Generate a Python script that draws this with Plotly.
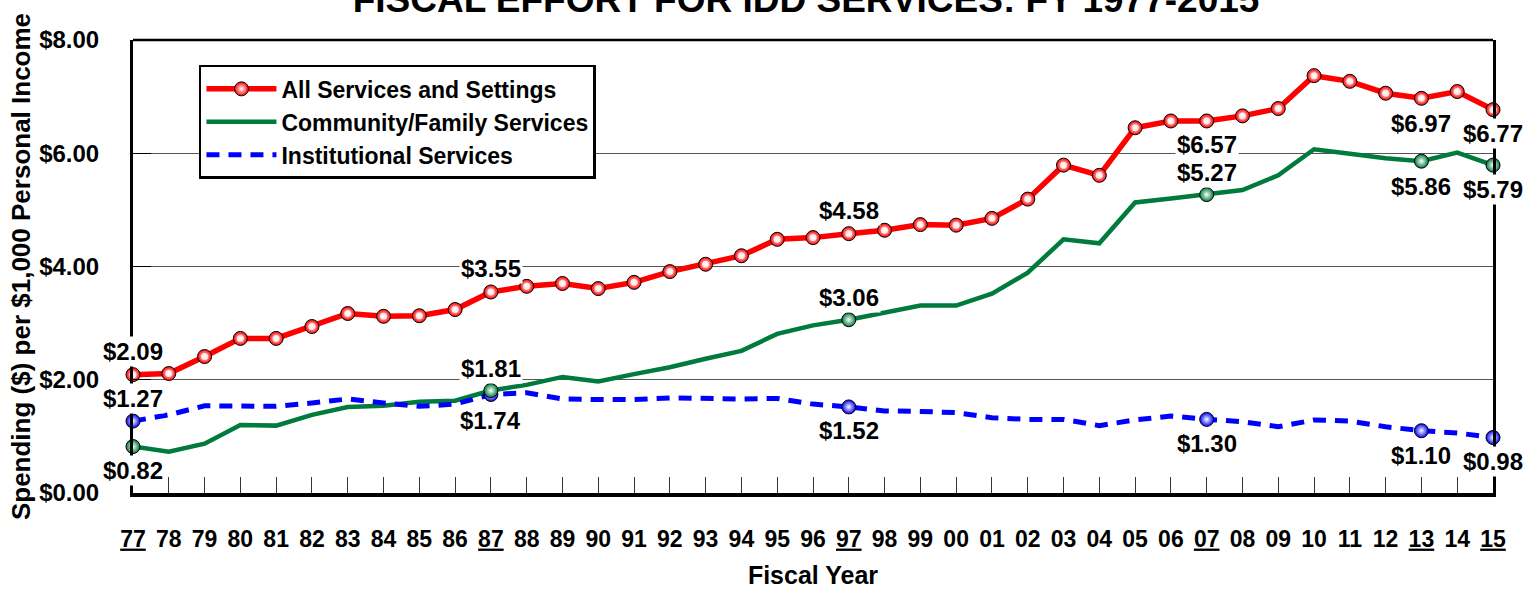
import plotly.graph_objects as go

# ---------------- data ----------------
year_labels = ['77', '78', '79', '80', '81', '82', '83', '84', '85', '86',
               '87', '88', '89', '90', '91', '92', '93', '94', '95', '96',
               '97', '98', '99', '00', '01', '02', '03', '04', '05', '06',
               '07', '08', '09', '10', '11', '12', '13', '14', '15']

all_services = [2.09, 2.11, 2.41, 2.73, 2.73, 2.94, 3.17, 3.12, 3.13, 3.24,
                3.55, 3.65, 3.70, 3.61, 3.72, 3.91, 4.04, 4.19, 4.48, 4.51,
                4.58, 4.64, 4.74, 4.73, 4.85, 5.19, 5.79, 5.61, 6.45, 6.57,
                6.57, 6.66, 6.79, 7.37, 7.27, 7.06, 6.97, 7.09, 6.77]

community = [0.82, 0.73, 0.87, 1.20, 1.19, 1.38, 1.52, 1.54, 1.61, 1.63,
             1.81, 1.91, 2.05, 1.97, 2.10, 2.22, 2.37, 2.51, 2.81, 2.96,
             3.06, 3.19, 3.31, 3.31, 3.52, 3.89, 4.48, 4.41, 5.13, 5.20,
             5.27, 5.35, 5.61, 6.07, 5.99, 5.91, 5.86, 6.01, 5.79]

institutional = [1.27, 1.38, 1.54, 1.53, 1.53, 1.59, 1.66, 1.59, 1.53, 1.57,
                 1.74, 1.77, 1.66, 1.65, 1.65, 1.68, 1.66, 1.66, 1.67, 1.57,
                 1.52, 1.45, 1.44, 1.42, 1.33, 1.30, 1.30, 1.19, 1.29, 1.36,
                 1.30, 1.26, 1.17, 1.29, 1.27, 1.17, 1.10, 1.06, 0.98]

highlight_years = ['77', '87', '97', '07', '13', '15']

series_names = ['All Services and Settings', 'Community/Family Services', 'Institutional Services']
title_text = 'FISCAL EFFORT FOR IDD SERVICES: FY 1977-2015'
x_title = 'Fiscal Year'
y_title = 'Spending ($) per $1,000 Personal Income'

# ---------------- style ----------------
FONT = 'Liberation Sans, Arial, sans-serif'
RED, GREEN, BLUE = '#ff0000', '#007a3d', '#0000ff'
# vertical label offset in px per highlighted year (+ above, - below)
label_shift = {
    'all':  {'77': 23, '87': 23, '97': 23, '07': -24, '13': -25, '15': -24},
    'com':  {'77': -24, '87': 22, '97': 22, '07': 22, '13': -25, '15': -24},
    'inst': {'77': 23, '87': -26, '97': -24, '07': -24, '13': -25, '15': -24},
}

def sphere(color):
    return dict(symbol='circle', size=14, color=color,
                gradient=dict(type='radial', color='white'),
                line=dict(color='black', width=1))

fig = go.Figure()

fig.add_trace(go.Scatter(x=year_labels, y=all_services, name=series_names[0],
                         mode='lines+markers', line=dict(color=RED, width=5.5),
                         marker=sphere(RED), cliponaxis=False))
# highlight of the red spheres
fig.add_trace(go.Scatter(x=year_labels, y=all_services, mode='markers', showlegend=False,
                         hoverinfo='skip', cliponaxis=False,
                         marker=dict(symbol='circle', size=7, color='#ffe0e0',
                                     gradient=dict(type='radial', color='white'))))
fig.add_trace(go.Scatter(x=year_labels, y=community, name=series_names[1],
                         mode='lines', line=dict(color=GREEN, width=4.5), cliponaxis=False))
fig.add_trace(go.Scatter(x=year_labels, y=institutional, name=series_names[2],
                         mode='lines', line=dict(color=BLUE, width=5, dash='13px,9px'),
                         cliponaxis=False))

idx = [year_labels.index(y) for y in highlight_years]
fig.add_trace(go.Scatter(x=highlight_years, y=[institutional[i] for i in idx], mode='markers',
                         marker=sphere(BLUE), showlegend=False, cliponaxis=False))
fig.add_trace(go.Scatter(x=highlight_years, y=[community[i] for i in idx], mode='markers',
                         marker=sphere(GREEN), showlegend=False, cliponaxis=False))

annotations = []
for key, vals in (('all', all_services), ('com', community), ('inst', institutional)):
    for y in highlight_years:
        i = year_labels.index(y)
        v = vals[i]
        annotations.append(dict(x=i, y=v, xref='x', yref='y', text=f'${v:.2f}',
                                showarrow=False, yshift=label_shift[key][y],
                                bgcolor='white', borderpad=1,
                                font=dict(family=FONT, size=24, color='black', weight='bold')))

ticktext = [f'<u>{y}</u>' if y in highlight_years else y for y in year_labels]

fig.update_layout(
    width=1537, height=589,
    margin=dict(l=133, r=44, t=40, b=96, autoexpand=False),
    paper_bgcolor='white', plot_bgcolor='white',
    font=dict(family=FONT, color='black', weight='bold'),
    title=dict(text=title_text, x=0.5244, xanchor='center', y=0.980, yanchor='bottom',
               yref='container',
               font=dict(family=FONT, size=37, color='black', weight='bold')),
    showlegend=True,
    legend=dict(x=0.0485, y=0.945, xanchor='left', yanchor='top',
                bgcolor='white', bordercolor='black', borderwidth=2.5,
                font=dict(family=FONT, size=23, color='black', weight='bold'),
                tracegroupgap=0, itemwidth=70),
    annotations=annotations,
    shapes=[dict(type='line', xref='paper', yref='paper', x0=0, x1=1, y0=1, y1=1,
                 line=dict(color='black', width=2.5))],
)

fig.update_xaxes(type='category', range=[0, len(year_labels) - 1], automargin=False,
                 tickmode='array', tickvals=year_labels, ticktext=ticktext,
                 ticks='inside', ticklen=16, tickwidth=1, tickcolor='#333',
                 showline=True, linewidth=4, linecolor='black', mirror=False,
                 showgrid=False, zeroline=False, ticklabelstandoff=22,
                 tickfont=dict(family=FONT, size=23, color='black', weight='bold'),
                 title=dict(text=x_title, standoff=20,
                            font=dict(family=FONT, size=25, color='black', weight='bold')))

fig.update_yaxes(range=[0, 8], dtick=2, tickprefix='$', tickformat='.2f', automargin=False,
                 ticks='inside', ticklen=18, tickwidth=1, tickcolor='black',
                 showline=True, linewidth=3, linecolor='black', mirror=True,
                 showgrid=True, gridcolor='#555', gridwidth=1, zeroline=False,
                 ticklabelstandoff=26,
                 tickfont=dict(family=FONT, size=24, color='black', weight='bold'),
                 title=dict(text=y_title, standoff=2,
                            font=dict(family=FONT, size=26, color='black', weight='bold')))

fig.write_html('out.html', config={'displayModeBar': False},
               post_script="document.body.style.margin='0';")
